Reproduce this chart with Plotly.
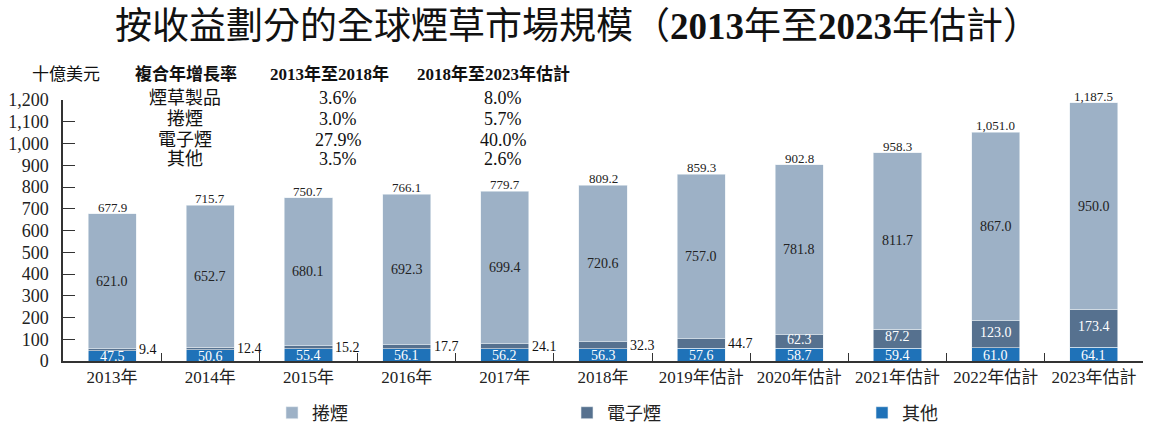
import plotly.graph_objects as go

categories = ["2013年", "2014年", "2015年", "2016年", "2017年", "2018年",
              "2019年估計", "2020年估計", "2021年估計", "2022年估計", "2023年估計"]
others = [47.5, 50.6, 55.4, 56.1, 56.2, 56.3, 57.6, 58.7, 59.4, 61.0, 64.1]
ecig = [9.4, 12.4, 15.2, 17.7, 24.1, 32.3, 44.7, 62.3, 87.2, 123.0, 173.4]
cig = [621.0, 652.7, 680.1, 692.3, 699.4, 720.6, 757.0, 781.8, 811.7, 867.0, 950.0]
totals = [677.9, 715.7, 750.7, 766.1, 779.7, 809.2, 859.3, 902.8, 958.3, 1051.0, 1187.5]

cagr_rows = ["煙草製品", "捲煙", "電子煙", "其他"]
cagr_1318 = ["3.6%", "3.0%", "27.9%", "3.5%"]
cagr_1823 = ["8.0%", "5.7%", "40.0%", "2.6%"]

C_CIG = "#9db1c6"
C_ECIG = "#56718f"
C_OTH = "#1f72b8"
FONT = "Liberation Serif, Noto Sans CJK TC"

fig = go.Figure()
fig.add_bar(x=categories, y=others, name="其他", marker=dict(color=C_OTH, line=dict(color="#e8eef4", width=0.6)))
fig.add_bar(x=categories, y=ecig, name="電子煙", marker=dict(color=C_ECIG, line=dict(color="#e8eef4", width=0.6)))
fig.add_bar(x=categories, y=cig, name="捲煙", marker=dict(color=C_CIG, line=dict(color="#e8eef4", width=0.6)))

ann = []
for i, c in enumerate(categories):
    ann.append(dict(x=c, y=others[i] / 2, text=f"{others[i]:.1f}", showarrow=False,
                    font=dict(size=14, color="white", family=FONT), yanchor="middle", yshift=-1))
    ymid = others[i] + ecig[i] / 2
    if ecig[i] < 50:
        ann.append(dict(x=c, y=ymid, text=f"{ecig[i]:.1f}", showarrow=False, xanchor="left",
                        xshift=25, font=dict(size=14, color="#111", family=FONT), yanchor="middle"))
    else:
        ann.append(dict(x=c, y=ymid, text=f"{ecig[i]:.1f}", showarrow=False,
                        font=dict(size=14, color="white", family=FONT), yanchor="middle", yshift=2))
    ann.append(dict(x=c, y=others[i] + ecig[i] + cig[i] / 2, text=f"{cig[i]:.1f}", showarrow=False,
                    font=dict(size=14, color="#222", family=FONT), yanchor="middle"))
    ann.append(dict(x=c, y=totals[i], text=f"{totals[i]:,.1f}", showarrow=False, yanchor="bottom",
                    yshift=-3, font=dict(size=13, color="#222", family=FONT)))

def px2x(px):
    return (px - 63) / 1080

def py2y(py):
    return (361 - py) / 261

ann.append(dict(xref="paper", yref="paper", x=px2x(577), y=py2y(26),
                text="按收益劃分的全球煙草市場規模（<b>2013</b>年至<b>2023</b>年估計）",
                showarrow=False, xanchor="center", yanchor="middle",
                font=dict(size=37, color="#111", family=FONT)))
hy = py2y(74)
for px, txt in [(30, "十億美元"), (133, "<b>複合年增長率</b>"), (268, "<b>2013年至2018年</b>"),
                (415, "<b>2018年至2023年估計</b>")]:
    ann.append(dict(xref="paper", yref="paper", x=px2x(px), y=hy, text=txt, showarrow=False,
                    xanchor="left", yanchor="middle", font=dict(size=17, color="#111", family=FONT)))
row_y = [98, 119, 140, 159]
for r, lab, a, b in zip(row_y, cagr_rows, cagr_1318, cagr_1823):
    for px, txt in [(185, lab), (338, a), (503, b)]:
        ann.append(dict(xref="paper", yref="paper", x=px2x(px), y=py2y(r), text=txt, showarrow=False,
                        xanchor="center", yanchor="middle", font=dict(size=18, color="#111", family=FONT)))

fig.update_layout(
    width=1154, height=438,
    margin=dict(l=63, r=11, t=100, b=77, autoexpand=False),
    barmode="stack", bargap=0.51,
    plot_bgcolor="white", paper_bgcolor="white",
    font=dict(family=FONT, color="#222"),
    annotations=ann,
    showlegend=True,
    legend=dict(orientation="h", traceorder="reversed", x=px2x(272), y=py2y(413),
                xanchor="left", yanchor="middle", entrywidth=250, entrywidthmode="pixels",
                font=dict(size=18, color="#222", family=FONT)),
)
fig.update_xaxes(showline=True, linecolor="#333", linewidth=1.5, ticks="inside", ticklen=8,
                 tickcolor="#333", tickson="boundaries", tickangle=0, automargin=False,
                 tickfont=dict(size=17, color="#222", family=FONT), showgrid=False)
fig.update_yaxes(range=[0, 1200], dtick=100, tickformat=",", showline=True, linecolor="#333",
                 linewidth=1.5, ticks="inside", ticklen=12, tickcolor="#333", showgrid=False,
                 zeroline=False, ticklabelstandoff=9, automargin=False,
                 tickfont=dict(size=18, color="#222", family=FONT))

fig.write_html("out.html")
